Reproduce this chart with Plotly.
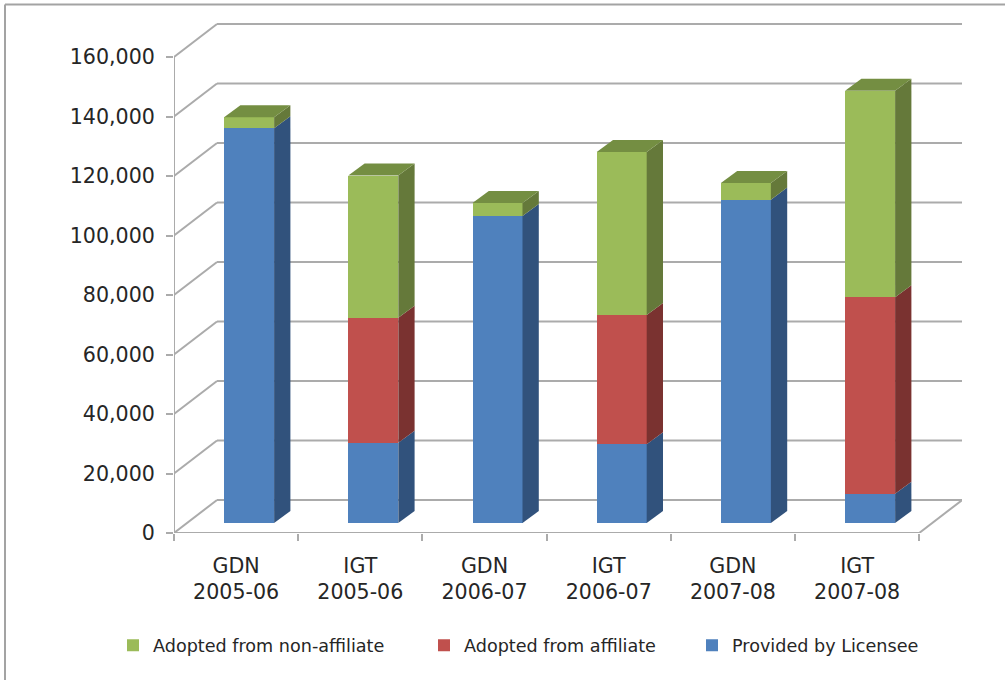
import plotly.graph_objects as go

# Stacked volumes per licensee group and year
categories = ["GDN<br>2005-06", "IGT<br>2005-06", "GDN<br>2006-07",
              "IGT<br>2006-07", "GDN<br>2007-08", "IGT<br>2007-08"]
provided_by_licensee = [132700, 27000, 103200, 26500, 108700, 9800]
adopted_from_affiliate = [0, 42000, 0, 43400, 0, 66100]
adopted_from_non_affiliate = [3700, 47800, 4400, 54800, 5600, 69400]
value_ticks = [0, 20000, 40000, 60000, 80000, 100000, 120000, 140000, 160000]

series = [
    ("Provided by Licensee", provided_by_licensee, "#4F81BD", "#31527C", None, "legend3"),
    ("Adopted from affiliate", adopted_from_affiliate, "#C0504D", "#7A3230", None, "legend2"),
    ("Adopted from non-affiliate", adopted_from_non_affiliate, "#9BBB59", "#65793A", "#748E42", "legend"),
]

# Plot frame and scales, in page pixels
W, H = 1005, 680
LEFT, RIGHT, TOP, BOTTOM = 174, 962, 23, 532.7
CAT_PX = 124.2
VAL_PX = 475.7 / 160000
to_x = lambda px: px / CAT_PX
to_y = lambda px: px / VAL_PX

x_range = [-0.5, -0.5 + to_x(RIGHT - LEFT)]
y_range = [0, to_y(BOTTOM - TOP)]

# Oblique projection offsets: back wall, bar placement on the floor, bar depth
WALL_DX, WALL_DY = to_x(43), to_y(33)
INSET_DX, INSET_DY = to_x(13), to_y(10)
DEPTH_DX, DEPTH_DY = to_x(16.3), to_y(12)
BAR_W = to_x(50)
GRID = "#ABABAB"

fig = go.Figure()

# Front faces with cumulative bases, plus side and top faces derived from them
bar_x = [i + INSET_DX for i in range(len(categories))]
running = [0] * len(categories)
faces = []
for name, values, front, side, top, legend_id in series:
    bases = [r + INSET_DY for r in running]
    fig.add_trace(go.Bar(x=bar_x, y=values, base=bases, width=BAR_W, name=name,
                         marker=dict(color=front, line=dict(width=0)), legend=legend_id))
    for xc, b, v in zip(bar_x, bases, values):
        if v <= 0:
            continue
        xr = xc + BAR_W / 2
        faces.append(([xr, xr + DEPTH_DX, xr + DEPTH_DX, xr, xr],
                      [b, b + DEPTH_DY, b + v + DEPTH_DY, b + v, b], side))
    running = [r + v for r, v in zip(running, values)]
    if top:
        for xc, r in zip(bar_x, running):
            xr, xl = xc + BAR_W / 2, xc - BAR_W / 2
            yb = r + INSET_DY
            faces.append(([xl, xr, xr + DEPTH_DX, xl + DEPTH_DX, xl],
                          [yb, yb, yb + DEPTH_DY, yb + DEPTH_DY, yb], top))

for fx, fy, color in faces:
    fig.add_trace(go.Scatter(x=fx, y=fy, mode="lines", fill="toself", fillcolor=color,
                             line=dict(width=0), showlegend=False, hoverinfo="skip"))

# Wall and floor lines sit beneath the bars
line = dict(color=GRID, width=2)
shapes = []
x0, x1 = -0.5, 5.5
for v in value_ticks:
    shapes.append(dict(type="line", layer="below", xref="x", yref="y", line=line,
                       x0=x0, y0=v, x1=x0 + WALL_DX, y1=v + WALL_DY))
    shapes.append(dict(type="line", layer="below", xref="x", yref="y", line=line,
                       x0=x0 + WALL_DX, y0=v + WALL_DY, x1=x1 + WALL_DX, y1=v + WALL_DY))
shapes.append(dict(type="line", layer="below", xref="x", yref="y", line=line,
                   x0=x0, y0=0, x1=x0, y1=value_ticks[-1]))
shapes.append(dict(type="line", layer="below", xref="x", yref="y", line=line,
                   x0=x0, y0=0, x1=x1, y1=0))
shapes.append(dict(type="line", layer="below", xref="x", yref="y", line=line,
                   x0=x1, y0=0, x1=x1 + WALL_DX, y1=WALL_DY))

# Frame around the chart area, open on the right and bottom
px_x = lambda px: (px - LEFT) / (RIGHT - LEFT)
px_y = lambda py: (BOTTOM - py) / (BOTTOM - TOP)
frame = dict(color="#A3A3A3", width=2)
shapes.append(dict(type="line", xref="paper", yref="paper", line=frame,
                   x0=px_x(5), y0=px_y(680), x1=px_x(5), y1=px_y(4.5)))
shapes.append(dict(type="line", xref="paper", yref="paper", line=frame,
                   x0=px_x(5), y0=px_y(4.5), x1=px_x(1005), y1=px_y(4.5)))


def legend_at(px):
    # One legend block per series so each entry keeps its own horizontal position
    return dict(orientation="h", x=px_x(px), xanchor="left", y=px_y(645), yanchor="middle",
                font=dict(size=17.6), bgcolor="rgba(0,0,0,0)",
                itemclick=False, itemdoubleclick=False)


fig.update_layout(
    width=W, height=H, autosize=False,
    margin=dict(l=LEFT, r=W - RIGHT, t=TOP, b=H - BOTTOM, pad=0),
    paper_bgcolor="white", plot_bgcolor="rgba(0,0,0,0)",
    barmode="overlay", bargap=0,
    font=dict(family="DejaVu Sans", size=20, color="#262626"),
    shapes=shapes,
    xaxis=dict(range=x_range, tickmode="array", tickvals=list(range(len(categories))),
               ticktext=categories, ticks="", showgrid=False, zeroline=False, showline=False,
               ticklabelstandoff=18, tickfont=dict(size=20.6),
               minor=dict(tickmode="array", tickvals=[i - 0.5 for i in range(len(categories) + 1)],
                          ticks="outside", ticklen=7, tickwidth=2, tickcolor=GRID, showgrid=False)),
    yaxis=dict(range=y_range, tickmode="array", tickvals=value_ticks, tickformat=",",
               ticks="outside", ticklen=7, tickwidth=2, tickcolor=GRID,
               showgrid=False, zeroline=False, showline=False,
               ticklabelstandoff=7, tickfont=dict(size=20.6)),
    legend=legend_at(113),
    legend2=legend_at(424),
    legend3=legend_at(692),
)

fig.write_html("out.html", config={"displayModeBar": False})
